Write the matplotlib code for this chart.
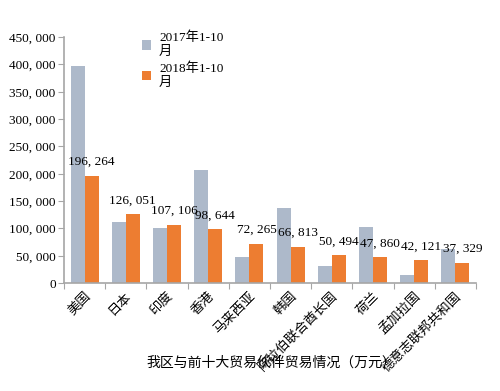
import matplotlib
matplotlib.use('Agg')
import matplotlib.pyplot as plt
import numpy as np

# --- data ---
countries = ['美国', '日本', '印度', '香港', '马来西亚', '韩国',
             '阿拉伯联合酋长国', '荷兰', '孟加拉国', '德意志联邦共和国']
v2017 = [397000, 112000, 101000, 206000, 48000, 137000, 30500, 103000, 15500, 62000]
v2018 = [196264, 126051, 107106, 98644, 72265, 66813, 50494, 47860, 42121, 37329]
series_names = ['2017年1-10\n月', '2018年1-10\n月']
title = '我区与前十大贸易伙伴贸易情况（万元）'

FONT = ['Liberation Serif', 'Noto Sans CJK SC']
plt.rcParams['font.family'] = FONT

C17 = '#ADB9CA'
C18 = '#ED7D31'
AX = '#A6A6A6'


def fmt(v):
    return '{:,}'.format(int(v)).replace(',', ', ')


fig = plt.figure(figsize=(5, 3.91), dpi=100)
ax = fig.add_axes([0.128, 0.276, 0.824, 0.629])

x = np.arange(len(countries))
w = 0.34
ax.bar(x - w / 2, v2017, w, color=C17, label=series_names[0])
ax.bar(x + w / 2, v2018, w, color=C18, label=series_names[1])

for xi, v in zip(x, v2018):
    ax.text(xi + w / 2, v + 14000, fmt(v), ha='center', va='bottom', fontsize=9.5)

ax.set_xlim(-0.5, len(countries) - 0.5)
ax.set_ylim(0, 450000)
ax.set_yticks(np.arange(0, 450001, 50000))
ax.set_yticklabels([fmt(t) for t in np.arange(0, 450001, 50000)], fontsize=9.5)

# ticks between groups, labels at centers
ax.set_xticks(np.arange(-0.5, len(countries)), minor=False)
ax.set_xticklabels([])
ax.set_xticks(x, minor=True)
ax.set_xticklabels(countries, minor=True, rotation=45, ha='right', va='top',
                   rotation_mode='anchor', fontsize=9.5)
ax.tick_params(axis='x', which='minor', length=0, pad=5)
ax.tick_params(axis='x', which='major', length=4, color=AX, direction='out')
ax.tick_params(axis='y', length=4, color=AX, pad=2)

for s in ['top', 'right']:
    ax.spines[s].set_visible(False)
for s in ['left', 'bottom']:
    ax.spines[s].set_color(AX)
    ax.spines[s].set_linewidth(1.2)

leg = ax.legend(loc='upper left', bbox_to_anchor=(0.16, 1.07), frameon=False,
                fontsize=9.5, handlelength=0.7, handleheight=0.7, handletextpad=0.6,
                labelspacing=0.3)

fig.text(0.542, 0.072, title, ha='center', va='center', fontsize=10,
         family=['Noto Sans CJK SC', 'DejaVu Sans'], weight='medium')

fig.savefig('out.png', dpi=100, facecolor='white')
